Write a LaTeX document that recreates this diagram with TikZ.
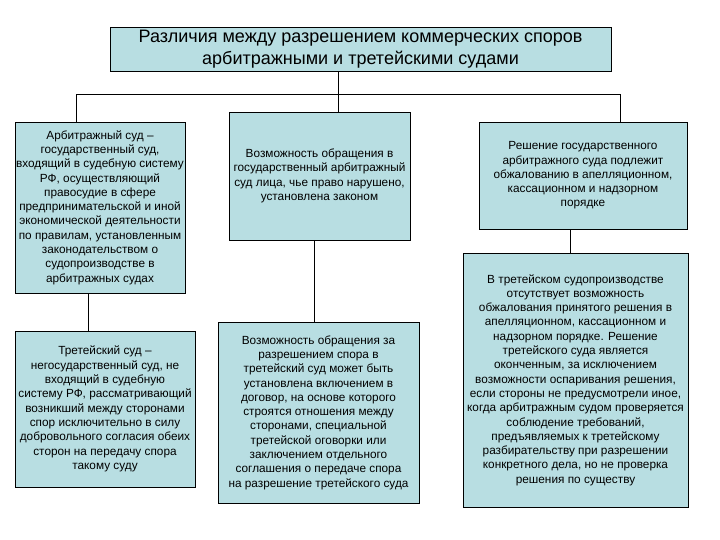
\documentclass[tikz,border=0pt]{standalone}
\usepackage{fontspec}
\setmainfont{Liberation Sans}
\usetikzlibrary{positioning}
\definecolor{boxfill}{RGB}{184,222,226}

\begin{document}
\begin{tikzpicture}[x=1pt,y=-1pt,
    box/.style={draw,line width=0.8pt,fill=boxfill,align=center,inner sep=0pt,
      font=\fontsize{11.8}{14.3}\selectfont},
    link/.style={line width=0.8pt}]
  \fill[white] (0,0) rectangle (720,540);
  \useasboundingbox (0,0) rectangle (720,540);
  % title
  \node[box,minimum width=501pt,minimum height=44pt,font=\fontsize{18}{22}\selectfont] (title) at (360.5,49)
    {Различия между разрешением коммерческих споров\\арбитражными и третейскими судами};
  % left column
  \node[box,minimum width=170pt,minimum height=171pt] (arb) at (100,207.5)
    {Арбитражный суд –\\государственный суд,\\входящий в судебную систему\\РФ, осуществляющий\\правосудие в сфере\\предпринимательской и иной\\экономической деятельности\\по правилам, установленным\\законодательством о\\судопроизводстве в\\арбитражных судах};
  \node[box,minimum width=180pt,minimum height=156pt] (tret) at (105,409)
    {Третейский суд –\\негосударственный суд, не\\входящий в судебную\\систему РФ, рассматривающий\\возникший между сторонами\\спор исключительно в силу\\добровольного согласия обеих\\сторон на передачу спора\\такому суду};
  % middle column
  \node[box,minimum width=181pt,minimum height=128pt] (arbacc) at (319.5,176)
    {Возможность обращения в\\государственный арбитражный\\суд лица, чье право нарушено,\\установлена законом};
  \node[box,minimum width=201pt,minimum height=181pt] (tretacc) at (318.5,412.5)
    {Возможность обращения за\\разрешением спора в\\третейский суд может быть\\установлена включением в\\договор, на основе которого\\строятся отношения между\\сторонами, специальной\\третейской оговорки или\\заключением отдельного\\соглашения о передаче спора\\на разрешение третейского суда};
  % right column
  \node[box,minimum width=208pt,minimum height=107pt] (arbapp) at (583,175.5)
    {Решение государственного\\арбитражного суда подлежит\\обжалованию в апелляционном,\\кассационном и надзорном\\порядке};
  \node[box,minimum width=225pt,minimum height=254pt] (tretapp) at (575.5,380)
    {В третейском судопроизводстве\\отсутствует возможность\\обжалования принятого решения в\\апелляционном, кассационном и\\надзорном порядке. Решение\\третейского суда является\\оконченным, за исключением\\возможности оспаривания решения,\\если стороны не предусмотрели иное,\\когда арбитражным судом проверяется\\соблюдение требований,\\предъявляемых к третейскому\\разбирательству при разрешении\\конкретного дела, но не проверка\\решения по существу};
  % connectors
  \coordinate (tap) at (338,94);
  \coordinate (lbus) at (76,94);
  \coordinate (rbus) at (620,94);
  \draw[link] (title.south -| tap) -- (arbacc.north -| tap);
  \draw[link] (arb.north -| lbus) -- (lbus) -- (rbus) -- (arbapp.north -| rbus);
  \foreach \a/\b/\x in {arb/tret/88,arbacc/tretacc/314,arbapp/tretapp/570}{
    \draw[link] (\a.south -| \x,0) -- (\b.north -| \x,0);
  }
\end{tikzpicture}
\end{document}
